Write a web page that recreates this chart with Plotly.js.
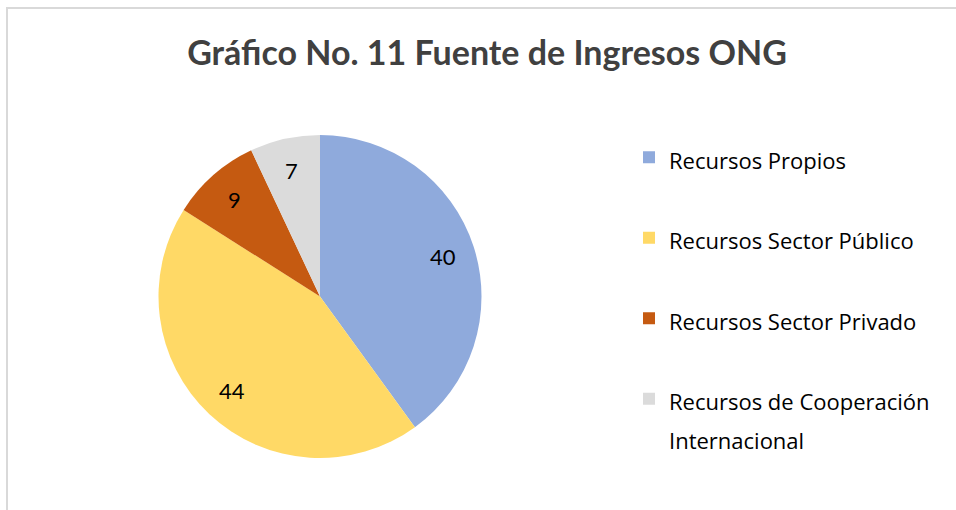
<!DOCTYPE html>
<html>
<head>
<meta charset="utf-8">
<script src="https://cdn.plot.ly/plotly-3.0.1.min.js"></script>
<style>html,body{margin:0;padding:0;background:#fff;}#chart{width:956px;height:510px;}</style>
</head>
<body>
<div id="chart"></div>
<script>
const categories = [
  "Recursos Propios",
  "Recursos Sector Público",
  "Recursos Sector Privado",
  "Recursos de Cooperación<br>Internacional"
];
const values = [40, 44, 9, 7];
const colors = ["#8FAADC", "#FFD966", "#C55A11", "#DBDBDB"];
const chartTitle = "Gráfico No. 11 Fuente de Ingresos ONG";

const W = 956, H = 510;
const pieDomain = { x: [158 / W, 482 / W], y: [1 - 458 / H, 1 - 135 / H] };

// legend labels: 22px glyphs inside a taller legend line, padded to two lines so entries are spaced like the original
const legendLabels = categories.map(c => {
  const lines = c.split("<br>").map(l => "<span style='font-size:22px'>" + l + "</span>");
  while (lines.length < 2) lines.push("\u00a0");
  return lines.join("<br>");
});

const trace = {
  type: "pie",
  labels: legendLabels,
  values: values,
  sort: false,
  direction: "clockwise",
  rotation: 0,
  marker: { colors: colors, line: { width: 0 } },
  textinfo: "none",
  domain: pieDomain,
  hoverinfo: "value"
};

// data labels placed along each slice's bisector (computed from the values)
const total = values.reduce((a, b) => a + b, 0);
const cxPx = (pieDomain.x[0] + pieDomain.x[1]) / 2 * W;
const cyPx = (1 - (pieDomain.y[0] + pieDomain.y[1]) / 2) * H;
const rPx = Math.min((pieDomain.x[1] - pieDomain.x[0]) * W, (pieDomain.y[1] - pieDomain.y[0]) * H) / 2;
const labelFrac = 0.8;
let cum = 0;
const labelAnnotations = values.map(v => {
  const mid = (cum + v / 2) / total * 2 * Math.PI;
  cum += v;
  const px = cxPx + labelFrac * rPx * Math.sin(mid);
  const py = cyPx - labelFrac * rPx * Math.cos(mid);
  return {
    x: px / W, y: 1 - py / H, xref: "paper", yref: "paper",
    xanchor: "center", yanchor: "middle", showarrow: false,
    text: String(v),
    font: { family: "Lato, 'Noto Sans', sans-serif", size: 22, color: "#000000" }
  };
});

const layout = {
  width: W, height: H,
  margin: { l: 0, r: 0, t: 0, b: 0 },
  paper_bgcolor: "#ffffff",
  font: { family: "Lato, 'Noto Sans', sans-serif", color: "#000000" },
  title: {
    text: chartTitle,
    x: 487 / W, xanchor: "center", xref: "paper",
    y: 1 - 53 / H, yanchor: "middle", yref: "container",
    font: { family: "Lato, 'Noto Sans', sans-serif", size: 34, weight: 700, color: "#404040" }
  },
  showlegend: true,
  legend: {
    x: 629 / W, xanchor: "left",
    y: 1 - 131.5 / H, yanchor: "top",
    valign: "top",
    font: { family: "'Open Sans', 'Noto Sans', sans-serif", size: 29.8, color: "#000000" },
    bgcolor: "rgba(0,0,0,0)",
    borderwidth: 0
  },
  annotations: labelAnnotations,
  shapes: [{
    type: "rect", xref: "paper", yref: "paper",
    x0: 7 / W, x1: 1.05, y0: -0.05, y1: 1 - 8 / H,
    line: { color: "#D9D9D9", width: 2 }, fillcolor: "rgba(0,0,0,0)", layer: "below"
  }]
};

Plotly.newPlot("chart", [trace], layout, { displayModeBar: false, staticPlot: true });
</script>
</body>
</html>
